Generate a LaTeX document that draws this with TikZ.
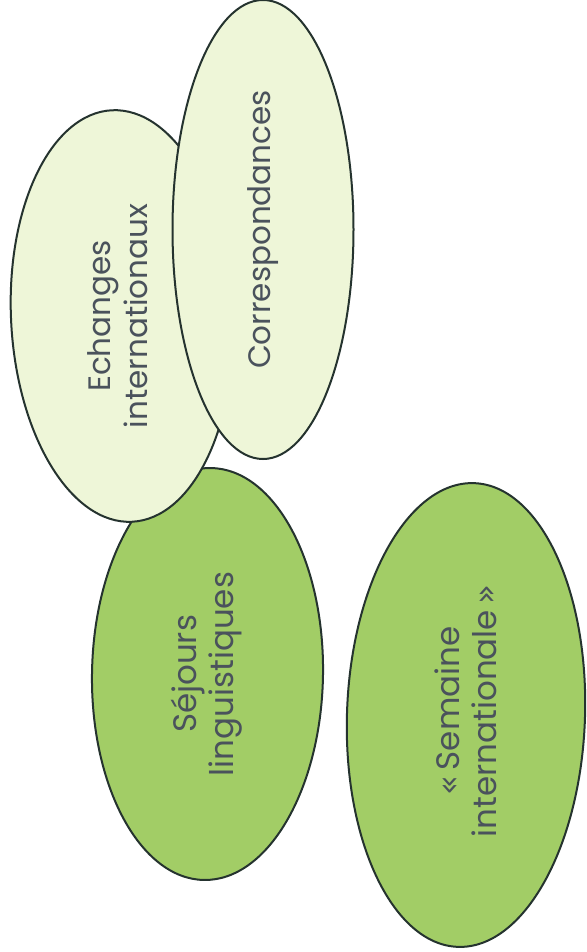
\documentclass[tikz,border=0pt]{standalone}
\usepackage{fontspec}
\setmainfont{Poppins}
\newfontfamily\gfont{DejaVu Sans}
\usetikzlibrary{shapes.geometric}
\definecolor{lightfill}{HTML}{EEF6D8}
\definecolor{greenfill}{HTML}{A2CD66}
\definecolor{edgecol}{HTML}{25332F}
\definecolor{txtcol}{HTML}{4A525C}
\begin{document}
\begin{tikzpicture}[x=1pt,y=-1pt,
  bubble/.style={ellipse, draw=edgecol, line width=2pt, inner sep=0pt},
  lightbubble/.style={bubble, fill=lightfill},
  greenbubble/.style={bubble, fill=greenfill},
  lbl/.style={rotate=90, text=txtcol, align=center, inner sep=0pt,
    font=\fontsize{31}{37}\selectfont}]
\useasboundingbox[fill=white] (0,0) rectangle (586,952);
% Sejours (behind Echanges)
\node[greenbubble, minimum width=412pt, minimum height=231pt, rotate=89] (sej) at (207.5,674) {};
\node[lbl, font=\fontsize{32.5}{37}\selectfont] (sejt) at ([xshift=-1pt]sej.center) {Séjours\\linguistiques};
% Echanges
\node[lightbubble, minimum width=412pt, minimum height=222pt, rotate=92.8] (ech) at (122,316) {};
\node[lbl] (echt) at ([xshift=-4pt]ech.center) {Echanges\\internationaux};
% Correspondances (in front)
\node[lightbubble, minimum width=459pt, minimum height=181pt, rotate=90] (cor) at (263,229.5) {};
\node[lbl, font=\fontsize{31}{37}\selectfont] (cort) at (cor.center) {Correspondances};
% Semaine internationale
\node[greenbubble, minimum width=464pt, minimum height=238pt, rotate=88] (sem) at (466,715) {};
\node[lbl, font=\fontsize{32.5}{37}\selectfont] (semt) at ([yshift=4pt]sem.center) {{\gfont«}\,Semaine\\internationale\,{\gfont»}};
\end{tikzpicture}
\end{document}
